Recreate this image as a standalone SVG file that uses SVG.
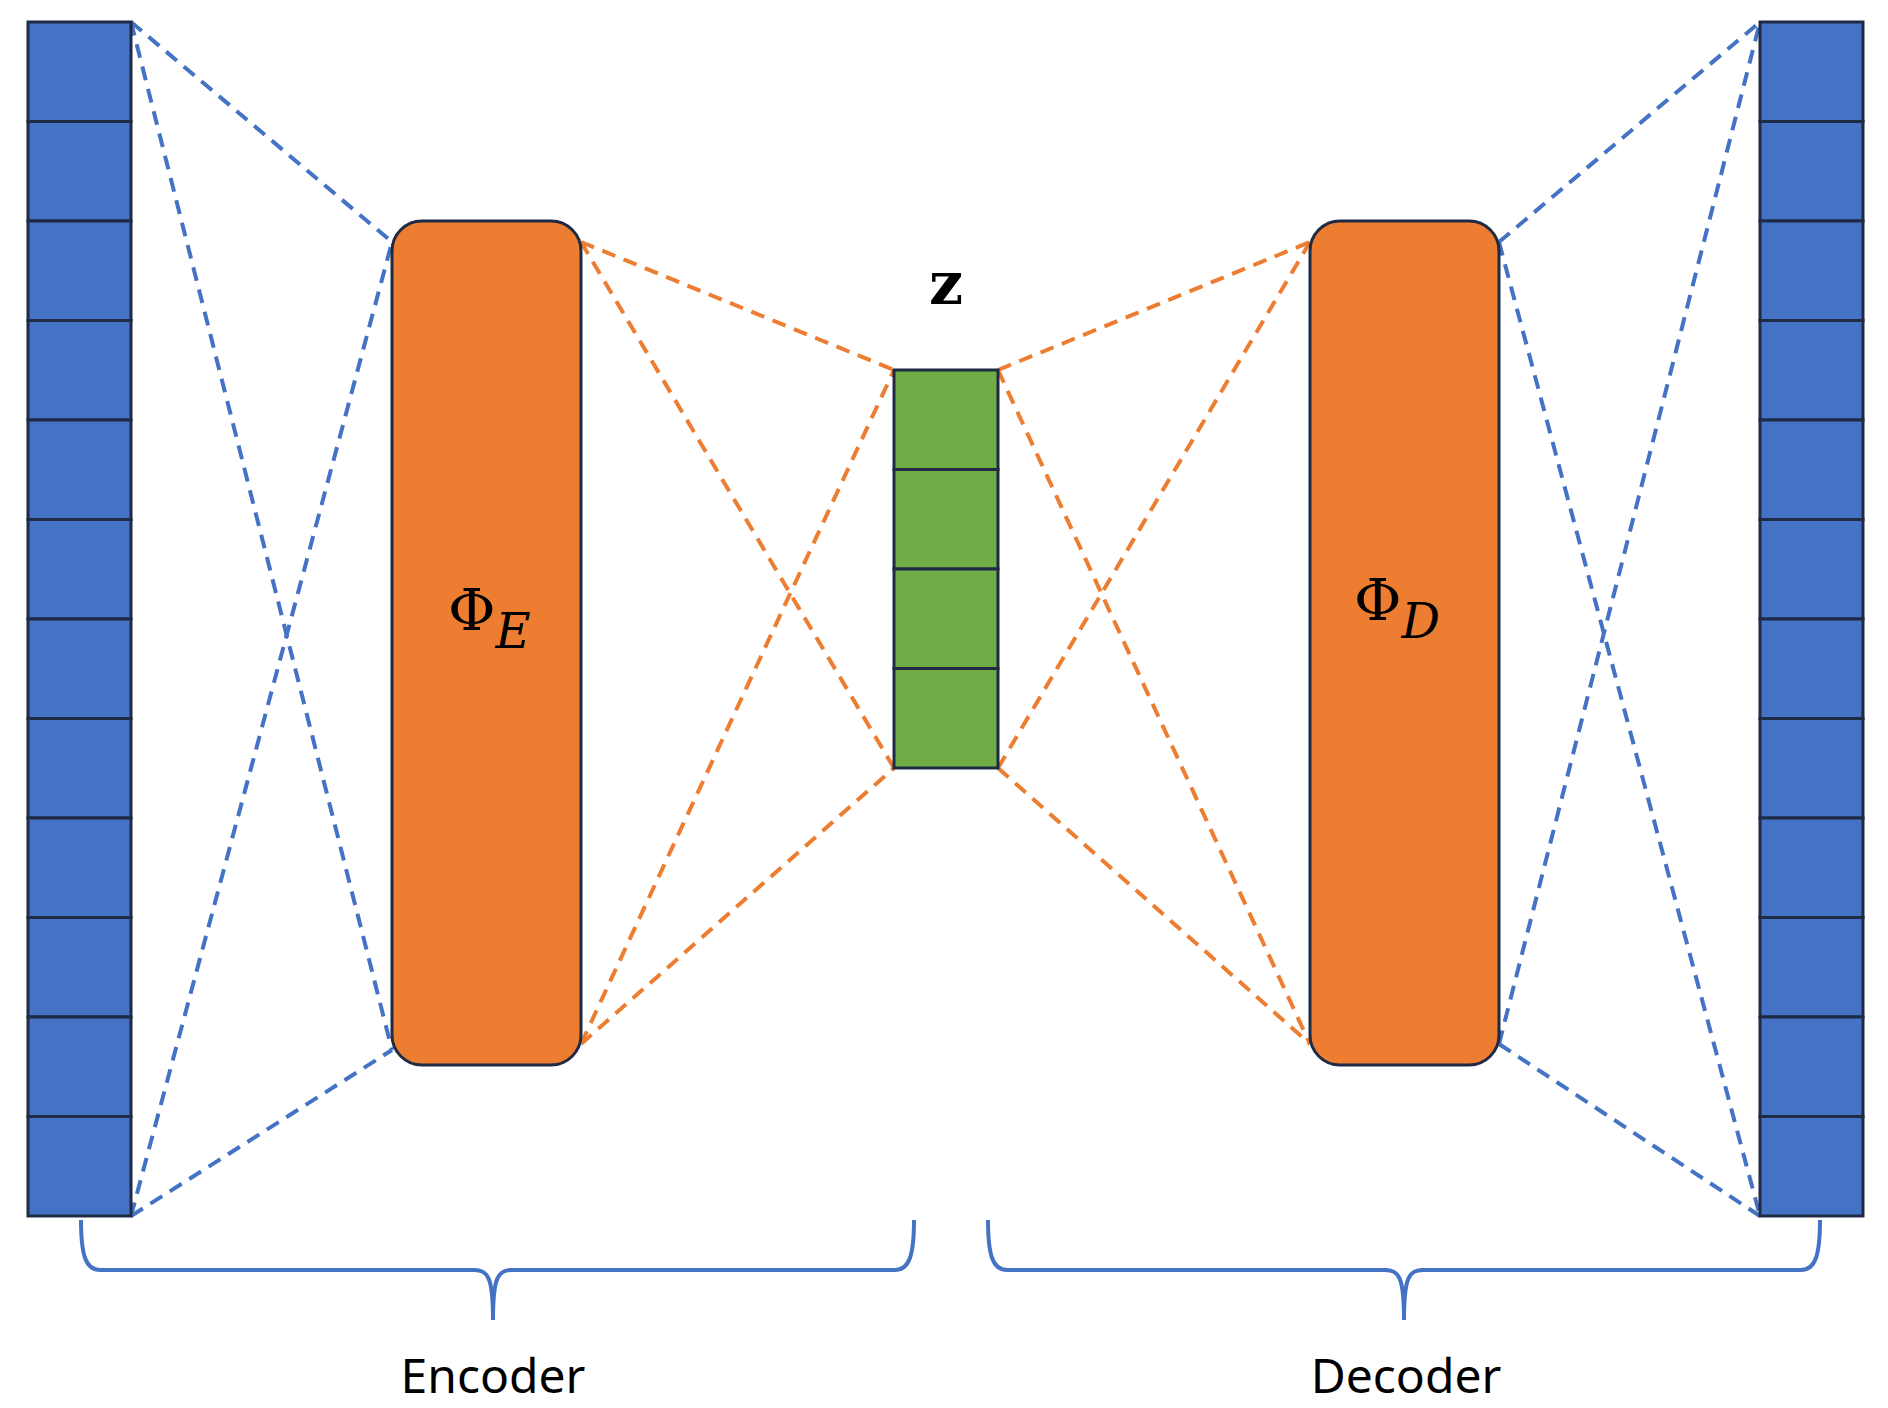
<svg xmlns="http://www.w3.org/2000/svg" width="1888" height="1408" viewBox="0 0 1888 1408">
<style>
.cell{fill:#4472C4;stroke:#1F2A44;stroke-width:3}
.zc{fill:#70AD47;stroke:#1F2A44;stroke-width:3}
.box{fill:#ED7D31;stroke:#1F2A44;stroke-width:3}
.db{stroke:#4472C4;stroke-width:4;stroke-dasharray:14 9;fill:none}
.do{stroke:#ED7D31;stroke-width:4;stroke-dasharray:14 9;fill:none}
.br{stroke:#4472C4;stroke-width:4;fill:none}
.lbl{font-family:"Noto Sans","Liberation Sans",sans-serif;font-size:48px;fill:#000}
.phi{font-family:"DejaVu Serif","Liberation Serif",serif;font-size:58px;fill:#000}
</style>
<rect width="1888" height="1408" fill="#fff"/>
<g id="connectors">
<line class="db" x1="131" y1="22" x2="392" y2="242"/>
<line class="db" x1="131" y1="22" x2="392" y2="1050"/>
<line class="db" x1="131" y1="1216" x2="392" y2="242"/>
<line class="db" x1="131" y1="1216" x2="392" y2="1050"/>
<line class="do" x1="581" y1="242" x2="894" y2="370"/>
<line class="do" x1="581" y1="242" x2="894" y2="768"/>
<line class="do" x1="581" y1="1044" x2="894" y2="370"/>
<line class="do" x1="581" y1="1044" x2="894" y2="768"/>
<line class="do" x1="998" y1="370" x2="1310" y2="242"/>
<line class="do" x1="998" y1="370" x2="1310" y2="1044"/>
<line class="do" x1="998" y1="768" x2="1310" y2="242"/>
<line class="do" x1="998" y1="768" x2="1310" y2="1044"/>
<line class="db" x1="1499" y1="242" x2="1760" y2="22"/>
<line class="db" x1="1499" y1="242" x2="1760" y2="1216"/>
<line class="db" x1="1499" y1="1044" x2="1760" y2="22"/>
<line class="db" x1="1499" y1="1044" x2="1760" y2="1216"/>
</g>
<g id="input">
<rect class="cell" x="28" y="22" width="103" height="99.5"/>
<rect class="cell" x="28" y="121.5" width="103" height="99.5"/>
<rect class="cell" x="28" y="221" width="103" height="99.5"/>
<rect class="cell" x="28" y="320.5" width="103" height="99.5"/>
<rect class="cell" x="28" y="420" width="103" height="99.5"/>
<rect class="cell" x="28" y="519.5" width="103" height="99.5"/>
<rect class="cell" x="28" y="619" width="103" height="99.5"/>
<rect class="cell" x="28" y="718.5" width="103" height="99.5"/>
<rect class="cell" x="28" y="818" width="103" height="99.5"/>
<rect class="cell" x="28" y="917.5" width="103" height="99.5"/>
<rect class="cell" x="28" y="1017" width="103" height="99.5"/>
<rect class="cell" x="28" y="1116.5" width="103" height="99.5"/>
</g>
<g id="output">
<rect class="cell" x="1760" y="22" width="103" height="99.5"/>
<rect class="cell" x="1760" y="121.5" width="103" height="99.5"/>
<rect class="cell" x="1760" y="221" width="103" height="99.5"/>
<rect class="cell" x="1760" y="320.5" width="103" height="99.5"/>
<rect class="cell" x="1760" y="420" width="103" height="99.5"/>
<rect class="cell" x="1760" y="519.5" width="103" height="99.5"/>
<rect class="cell" x="1760" y="619" width="103" height="99.5"/>
<rect class="cell" x="1760" y="718.5" width="103" height="99.5"/>
<rect class="cell" x="1760" y="818" width="103" height="99.5"/>
<rect class="cell" x="1760" y="917.5" width="103" height="99.5"/>
<rect class="cell" x="1760" y="1017" width="103" height="99.5"/>
<rect class="cell" x="1760" y="1116.5" width="103" height="99.5"/>
</g>
<g id="encoder">
<rect class="box" x="392" y="221" width="189" height="844" rx="30"/>
<text class="phi" x="448" y="630">Φ<tspan font-style="italic" font-size="48" dy="18">E</tspan></text>
</g>
<g id="decoder">
<rect class="box" x="1310" y="221" width="189" height="844" rx="30"/>
<text class="phi" x="1354" y="620">Φ<tspan font-style="italic" font-size="48" dy="18">D</tspan></text>
</g>
<g id="z">
<rect class="zc" x="894" y="370" width="104" height="99.5"/>
<rect class="zc" x="894" y="469.5" width="104" height="99.5"/>
<rect class="zc" x="894" y="569" width="104" height="99.5"/>
<rect class="zc" x="894" y="668.5" width="104" height="99.5"/>
<text x="946" y="304" text-anchor="middle" font-family="DejaVu Serif,Liberation Serif,serif" font-weight="bold" font-size="60">z</text>
</g>
<g id="encoder-brace">
<path class="br" d="M81,1220 C81,1256 86,1270 100,1270 L474,1270 C488,1270 493,1277 493,1320 C493,1277 498,1270 512,1270 L895,1270 C909,1270 914,1256 914,1220"/>
<text class="lbl" x="493" y="1393" text-anchor="middle" font-size="50">Encoder</text>
</g>
<g id="decoder-brace">
<path class="br" d="M988,1220 C988,1256 993,1270 1007,1270 L1385,1270 C1399,1270 1404,1277 1404,1320 C1404,1277 1409,1270 1423,1270 L1801,1270 C1815,1270 1820,1256 1820,1220"/>
<text class="lbl" x="1406" y="1393" text-anchor="middle" font-size="50">Decoder</text>
</g>
</svg>
